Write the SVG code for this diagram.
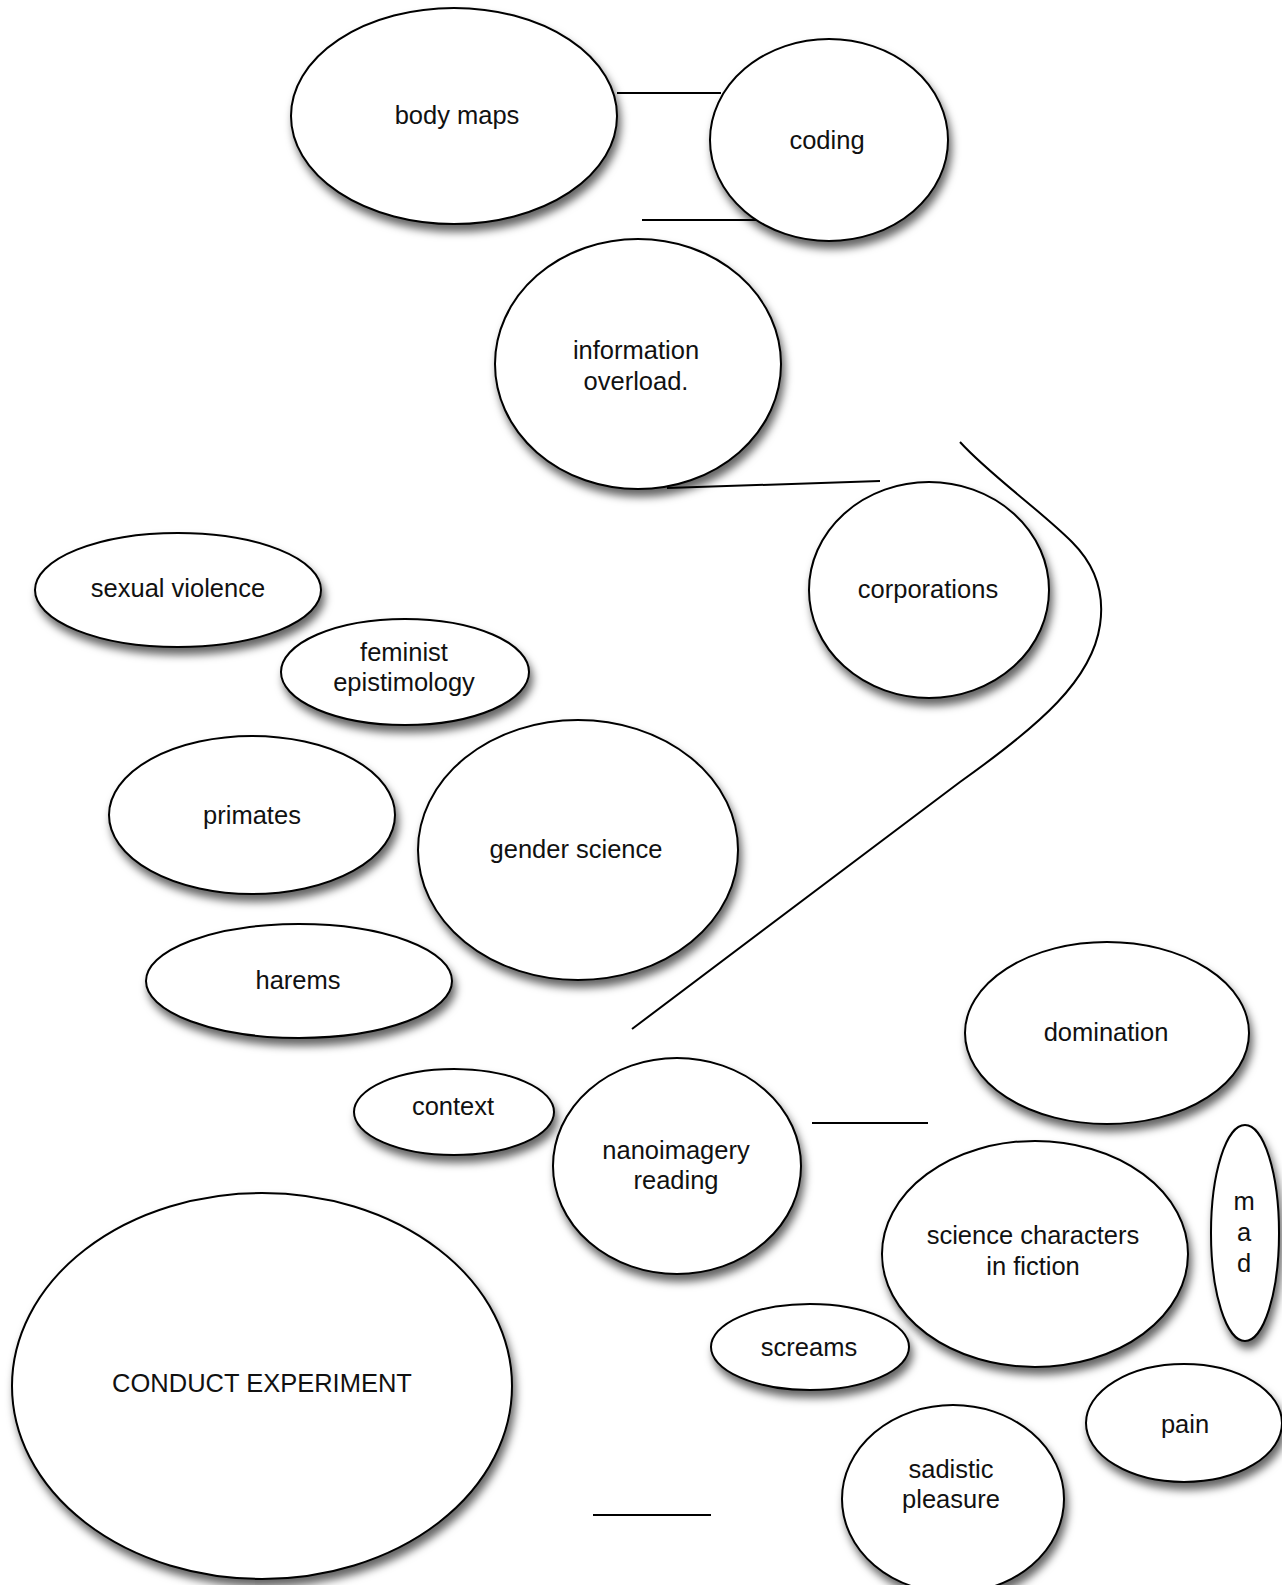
<svg xmlns="http://www.w3.org/2000/svg" width="1282" height="1585" viewBox="0 0 1282 1585">
<defs>
<filter id="sh" x="-20%" y="-20%" width="140%" height="150%">
<feDropShadow dx="3" dy="7" stdDeviation="4" flood-color="#000" flood-opacity="0.6"/>
</filter>
<style>
.n ellipse{fill:#fff;stroke:#000;stroke-width:2;filter:url(#sh)}
.n text{font-family:"Liberation Sans",Arial,sans-serif;font-size:25.5px;fill:#111;text-anchor:middle}
.c line,.c path{stroke:#000;stroke-width:2;fill:none}
</style>
</defs>
<rect width="1282" height="1585" fill="#fff"/>
<g class="c" id="connectors">
<line x1="617" y1="93" x2="721" y2="93"/>
<line x1="642" y1="220" x2="756" y2="220"/>
<path d="M667,488 L880,481"/>
<path d="M960,442 C990,475 1040,510 1072,542 C1098,568 1104,598 1100,625 C1092,680 1040,725 960,782 L632,1029"/>
<line x1="812" y1="1123" x2="928" y2="1123"/>
<line x1="593" y1="1515" x2="711" y2="1515"/>
</g>
<g class="n" id="body-maps"><ellipse cx="454" cy="116" rx="163" ry="108"/><text x="457" y="124">body maps</text></g>
<g class="n" id="coding"><ellipse cx="829" cy="140" rx="119" ry="101"/><text x="827" y="149">coding</text></g>
<g class="n" id="information-overload"><ellipse cx="638" cy="364" rx="143" ry="125"/><text x="636" y="359">information</text><text x="636" y="390">overload.</text></g>
<g class="n" id="corporations"><ellipse cx="929" cy="590" rx="120" ry="108"/><text x="928" y="598">corporations</text></g>
<g class="n" id="sexual-violence"><ellipse cx="178" cy="590" rx="143" ry="57"/><text x="178" y="597">sexual violence</text></g>
<g class="n" id="feminist-epistimology"><ellipse cx="405" cy="672" rx="124" ry="53"/><text x="404" y="661">feminist</text><text x="404" y="691">epistimology</text></g>
<g class="n" id="primates"><ellipse cx="252" cy="815" rx="143" ry="79"/><text x="252" y="824">primates</text></g>
<g class="n" id="gender-science"><ellipse cx="578" cy="850" rx="160" ry="130"/><text x="576" y="858">gender science</text></g>
<g class="n" id="harems"><ellipse cx="299" cy="981" rx="153" ry="57"/><text x="298" y="989">harems</text></g>
<g class="n" id="domination"><ellipse cx="1107" cy="1033" rx="142" ry="91"/><text x="1106" y="1041">domination</text></g>
<g class="n" id="context"><ellipse cx="454" cy="1112" rx="100" ry="43"/><text x="453" y="1115">context</text></g>
<g class="n" id="nanoimagery-reading"><ellipse cx="677" cy="1166" rx="124" ry="108"/><text x="676" y="1159">nanoimagery</text><text x="676" y="1189">reading</text></g>
<g class="n" id="science-characters"><ellipse cx="1035" cy="1254" rx="153" ry="113"/><text x="1033" y="1244">science characters</text><text x="1033" y="1275">in fiction</text></g>
<g class="n" id="mad"><ellipse cx="1245" cy="1233" rx="34" ry="108"/><text x="1244" y="1210">m</text><text x="1244" y="1241">a</text><text x="1244" y="1272">d</text></g>
<g class="n" id="screams"><ellipse cx="810" cy="1347" rx="99" ry="43"/><text x="809" y="1356">screams</text></g>
<g class="n" id="conduct-experiment"><ellipse cx="262" cy="1386" rx="250" ry="193"/><text x="262" y="1392">CONDUCT EXPERIMENT</text></g>
<g class="n" id="pain"><ellipse cx="1184" cy="1423" rx="98" ry="59"/><text x="1185" y="1433">pain</text></g>
<g class="n" id="sadistic-pleasure"><ellipse cx="953" cy="1499" rx="111" ry="94"/><text x="951" y="1478">sadistic</text><text x="951" y="1508">pleasure</text></g>
</svg>
